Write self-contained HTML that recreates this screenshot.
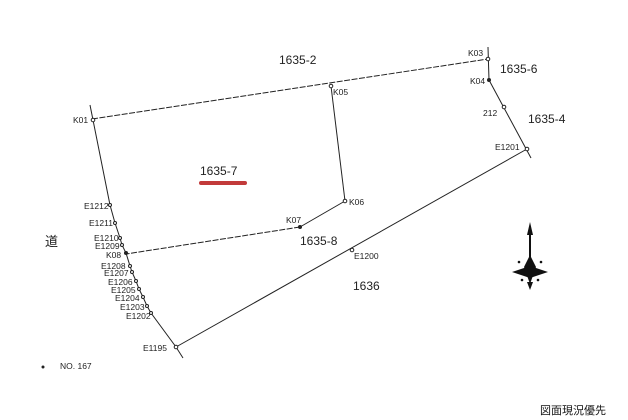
<!DOCTYPE html>
<html><head><meta charset="utf-8"><style>
html,body{margin:0;padding:0;background:#fff;width:628px;height:420px;overflow:hidden}
svg{display:block}
text{font-family:"Liberation Sans","Noto Sans CJK JP",sans-serif;fill:#222}
.s{font-size:8.5px}
.m{font-size:12px}
</style></head><body>
<svg width="628" height="420" viewBox="0 0 628 420">
<g stroke="#222" stroke-width="1" fill="none">
<polyline points="90,105 93,120 110,205 115,223 120,238 122,245 126,253 130,266 132,272 136,281 139,289 143,297 147,306 151,313 176,347 183,358"/>
<line x1="92" y1="119" x2="488" y2="59" stroke-dasharray="6,1.5"/>
<line x1="331" y1="86" x2="345" y2="201"/>
<line x1="345" y1="201" x2="300" y2="227"/>
<line x1="300" y1="227" x2="126" y2="254" stroke-dasharray="6,1.5"/>
<line x1="488" y1="47" x2="489" y2="80"/>
<line x1="489" y1="80" x2="531" y2="158"/>
<line x1="527" y1="149" x2="176" y2="347"/>
</g>
<g fill="#fff" stroke="#222" stroke-width="1">
<circle cx="93" cy="120" r="1.8"/><circle cx="488" cy="59" r="1.8"/><circle cx="331" cy="86" r="1.8"/>
<circle cx="345" cy="201" r="1.8"/><circle cx="352" cy="250" r="1.8"/><circle cx="527" cy="149" r="1.8"/>
<circle cx="176" cy="347" r="1.8"/><circle cx="504" cy="107" r="1.8"/>
<circle cx="110" cy="205" r="1.5"/><circle cx="115" cy="223" r="1.5"/><circle cx="120" cy="238" r="1.5"/>
<circle cx="122" cy="245" r="1.5"/><circle cx="130" cy="266" r="1.5"/><circle cx="132" cy="272" r="1.5"/>
<circle cx="136" cy="281" r="1.5"/><circle cx="139" cy="289" r="1.5"/><circle cx="143" cy="297" r="1.5"/>
<circle cx="147" cy="306" r="1.5"/><circle cx="151" cy="313" r="1.5"/>
</g>
<g fill="#222"><circle cx="489" cy="80" r="2"/><circle cx="300" cy="227" r="2"/><circle cx="126" cy="253" r="2"/></g>
<rect x="199" y="181" width="48" height="4" rx="2" fill="#c23a3a"/>
<text class="m" x="279" y="64">1635-2</text>
<text class="m" x="500" y="73">1635-6</text>
<text class="m" x="528" y="123">1635-4</text>
<text class="m" x="200" y="175">1635-7</text>
<text class="m" x="300" y="245">1635-8</text>
<text class="m" x="353" y="290">1636</text>
<text class="m" x="45" y="246" style="font-size:13px">道</text>
<text class="s" x="468" y="56">K03</text><text class="s" x="470" y="84">K04</text>
<text class="s" x="483" y="116">212</text><text class="s" x="495" y="150">E1201</text>
<text class="s" x="333" y="95">K05</text><text class="s" x="349" y="205">K06</text>
<text class="s" x="286" y="223">K07</text><text class="s" x="73" y="123">K01</text>
<text class="s" x="354" y="259">E1200</text><text class="s" x="143" y="351">E1195</text>
<text class="s" x="84" y="209">E1212</text><text class="s" x="89" y="226">E1211</text>
<text class="s" x="94" y="241">E1210</text><text class="s" x="95" y="249">E1209</text>
<text class="s" x="106" y="258">K08</text><text class="s" x="101" y="269">E1208</text>
<text class="s" x="104" y="276">E1207</text><text class="s" x="108" y="285">E1206</text>
<text class="s" x="111" y="293">E1205</text><text class="s" x="115" y="301">E1204</text>
<text class="s" x="120" y="310">E1203</text><text class="s" x="126" y="319">E1202</text>
<text class="s" x="60" y="369">NO. 167</text>
<circle cx="43" cy="367" r="1.5" fill="#222"/>
<text x="540" y="414" style="font-size:11px;fill:#111">図面現況優先</text>
<g fill="#111">
<polygon points="530,222 533,235 527,235"/>
<rect x="529" y="233" width="2" height="28"/>
<polygon points="530,255 536,267 530,284 524,267"/>
<polygon points="512,272 530,266 548,272 530,278"/>
<polygon points="527,282 533,282 530,290"/>
<circle cx="519" cy="262" r="1.3"/><circle cx="541" cy="262" r="1.3"/>
<circle cx="522" cy="280" r="1.3"/><circle cx="538" cy="280" r="1.3"/>
</g>
</svg>
</body></html>
